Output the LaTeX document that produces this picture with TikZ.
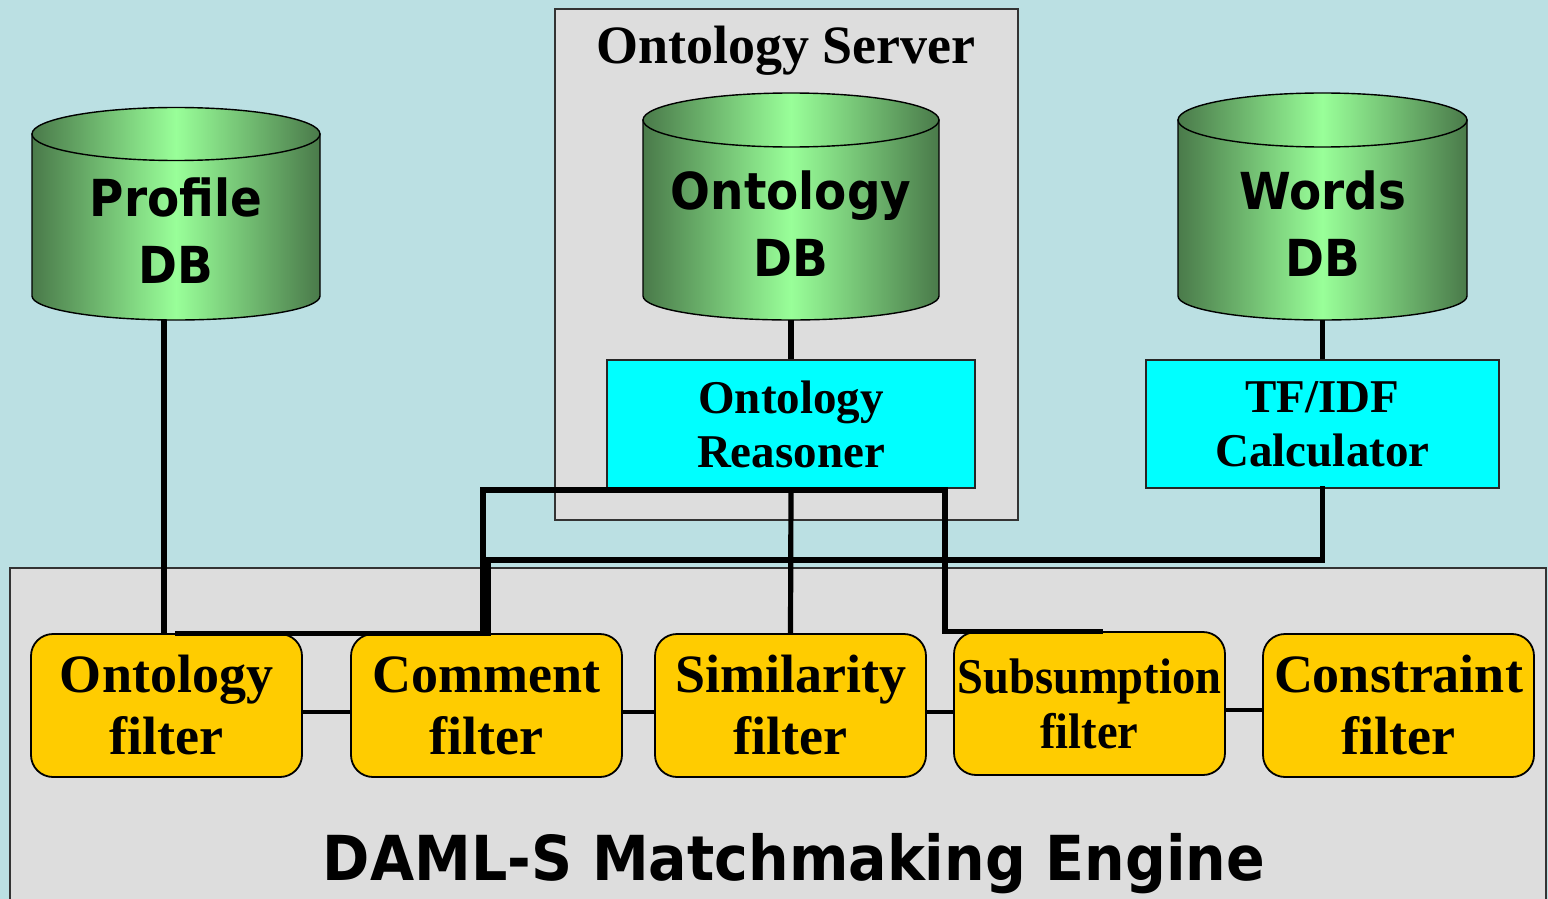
\documentclass[tikz,border=0pt]{standalone}
\usepackage{fontspec}
\setmainfont{Liberation Serif}
\newfontfamily\dbfont[FakeStretch=0.92]{DejaVu Sans}
\newfontfamily\narrowserif[FakeStretch=0.93]{Liberation Serif}
\definecolor{bgblue}{HTML}{BBE0E3}
\definecolor{panel}{HTML}{DDDDDD}
\definecolor{dblight}{HTML}{99FF99}
\definecolor{dbdark}{HTML}{4A7A4A}
\definecolor{filtfill}{HTML}{FFCC00}
\definecolor{calcfill}{HTML}{00FFFF}

% database cylinder: name, centre x, top-ellipse y, bottom-ellipse y, x radius, top y radius, bottom y radius
\newcommand\dbcylinder[7]{%
  \path[left color=dbdark, right color=dbdark, middle color=dblight, draw=black, line width=0.7pt]
    (#2-#5,#3) -- (#2-#5,#4) arc[start angle=180, end angle=0, x radius=#5, y radius=#7]
    -- (#2+#5,#3) -- cycle;
  \path[left color=dbdark, right color=dbdark, middle color=dblight, draw=black, line width=0.7pt]
    (#2,#3) ellipse[x radius=#5, y radius=#6];
  \coordinate (#1-bot) at (#2,#4+#7);
}

\begin{document}
\begin{tikzpicture}[x=0.5pt, y=-0.5pt,
  panelbox/.style={draw=black!80, line width=0.7pt, fill=panel, inner sep=0pt},
  calcbox/.style={draw=black!85, line width=0.8pt, fill=calcfill, inner sep=0pt,
    align=center, font=\bfseries\fontsize{23.5}{27}\selectfont,
    minimum height=64pt},
  filterbox/.style={draw=black, line width=0.9pt, fill=filtfill, rounded corners=11pt,
    inner sep=0pt, align=center, font=\bfseries\fontsize{27}{31}\selectfont,
    minimum width=135.5pt, minimum height=71.5pt},
  dblabel/.style={align=center, inner sep=0pt, font=\dbfont\bfseries\fontsize{25.5}{33.5}\selectfont},
  conn/.style={line width=2.6pt, line cap=rect, line join=miter},
  link/.style={line width=2pt}]

\useasboundingbox (0,0) rectangle (1548,899);
\clip (0,0) rectangle (1548,899);
\fill[bgblue] (0,0) rectangle (1548,899);

% enclosing panels
\node[panelbox, minimum width=231.5pt, minimum height=255.5pt] (server) at (786.5,264.5) {};
\node[anchor=base, font=\bfseries\fontsize{27}{31}\selectfont] (servertitle) at (786,64) {Ontology Server};
\node[panelbox, minimum width=768pt, minimum height=171pt] (engine) at (778,739) {};
\node[anchor=base, font=\dbfont\bfseries\fontsize{31}{36}\selectfont] (enginetitle) at (794,880) {DAML-S Matchmaking Engine};

% databases
\dbcylinder{pdb}{176}{134}{296}{144}{26.5}{24}
\node[dblabel] (pdbtext) at (176,231) {Profile\\DB};
\dbcylinder{odb}{791}{120}{296}{148}{27}{24}
\node[dblabel] (odbtext) at (791,224) {Ontology\\DB};
\dbcylinder{wdb}{1322.5}{120}{296}{144.5}{27}{24}
\node[dblabel] (wdbtext) at (1322.5,224) {Words\\DB};

% services
\node[calcbox, minimum width=184pt] (reasoner) at (791,424) {Ontology\\Reasoner};
\node[calcbox, minimum width=176.5pt] (tfidf) at (1322.5,424) {TF/IDF\\Calculator};

% filters
\node[filterbox] (f1) at (166.5,705.5) {Ontology\\filter};
\node[filterbox] (f2) at (486.5,705.5) {Comment\\filter};
\node[filterbox] (f3) at (790.5,705.5) {Similarity\\filter};
\node[filterbox, font=\narrowserif\bfseries\fontsize{25}{27.5}\selectfont] (f4) at (1089.5,703.5) {Subsumption\\filter};
\node[filterbox] (f5) at (1398.5,705.5) {Constraint\\filter};

% filter chain
\draw[link] ([yshift=-3.25pt]f1.east) -- ([yshift=-3.25pt]f1.east -| f2.west);
\draw[link] ([yshift=-3.25pt]f2.east) -- ([yshift=-3.25pt]f2.east -| f3.west);
\draw[link] ([yshift=-3.25pt]f3.east) -- ([yshift=-3.25pt]f3.east -| f4.west);
\draw[link] ([yshift=-3.25pt]f4.east) -- ([yshift=-3.25pt]f4.east -| f5.west);

% database links
\draw[conn, line cap=butt] ([xshift=-6pt]pdb-bot) -- ([xshift=-6pt]pdb-bot |- f1.north);
\draw[conn, line cap=butt] (odb-bot) -- (reasoner.north);
\draw[conn, line cap=butt] (wdb-bot) -- (tfidf.north);

% reasoner bus
\coordinate (rbL) at (483,490);
\coordinate (rbR) at (945,490);
\draw[conn] ([xshift=5.75pt]f1.north) -| (rbL) -- (rbR) |- ([xshift=5.25pt]f4.north);
\draw[conn, line cap=butt] (reasoner.south) -- (f3.north);

% TF/IDF bus
\coordinate (tb) at (488,560);
\draw[conn] (tfidf.south) |- (tb) -- (tb |- f2.north);
\end{tikzpicture}
\end{document}
